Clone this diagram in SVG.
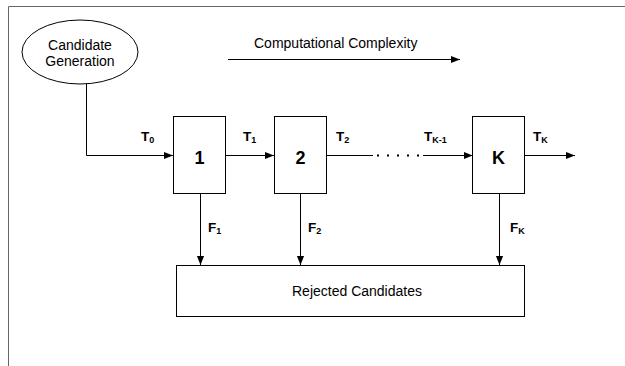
<svg xmlns="http://www.w3.org/2000/svg" width="625" height="366" viewBox="0 0 625 366">
<style>
.ln{stroke:#000;stroke-width:1;fill:none}
.bx{stroke:#000;stroke-width:1;fill:#fff}
.t{font-family:"Liberation Sans",Arial,sans-serif;font-size:14px;fill:#000}
.lb{font-family:"Liberation Sans",Arial,sans-serif;font-size:13.5px;font-weight:bold;fill:#000}
.sb{font-size:9px}
.num{font-family:"Liberation Sans",Arial,sans-serif;font-size:18px;font-weight:bold;fill:#000}
</style>
<defs>
<marker id="ah" viewBox="0 0 10 10" refX="10" refY="5" markerWidth="9" markerHeight="9" markerUnits="userSpaceOnUse" orient="auto">
<path d="M0,1 L10,5 L0,9 Z" fill="#000"/>
</marker>
</defs>
<rect width="625" height="366" fill="#fff"/>
<path d="M8.5,366 V6.5 H625" stroke="#666" stroke-width="1" fill="none"/>
<g id="connectors">
<path class="ln" d="M86.5,84 V155.5 H173" marker-end="url(#ah)"/>
<path class="ln" d="M225,155.5 H274" marker-end="url(#ah)"/>
<path class="ln" d="M326,155.5 H373"/>
<path d="M377,155.5 H421" stroke="#000" stroke-width="2" stroke-dasharray="2,8" fill="none"/>
<path class="ln" d="M423,155.5 H472.5" marker-end="url(#ah)"/>
<path class="ln" d="M525,155.5 H575" marker-end="url(#ah)"/>
<path class="ln" d="M200.5,193 V265" marker-end="url(#ah)"/>
<path class="ln" d="M300.5,193 V265" marker-end="url(#ah)"/>
<path class="ln" d="M499.5,193 V265" marker-end="url(#ah)"/>
<path class="ln" d="M228,59.5 H460" marker-end="url(#ah)"/>
</g>
<g id="labels">
<text class="t" x="254" y="48">Computational Complexity</text>
<text class="lb" x="141" y="141">T<tspan class="sb" dy="2">0</tspan></text>
<text class="lb" x="243" y="141">T<tspan class="sb" dy="2">1</tspan></text>
<text class="lb" x="336" y="141">T<tspan class="sb" dy="2">2</tspan></text>
<text class="lb" x="424" y="141">T<tspan class="sb" dy="2">K-1</tspan></text>
<text class="lb" x="533" y="141">T<tspan class="sb" dy="2">K</tspan></text>
<text class="lb" x="208" y="232">F<tspan class="sb" dy="2">1</tspan></text>
<text class="lb" x="308" y="232">F<tspan class="sb" dy="2">2</tspan></text>
<text class="lb" x="510" y="232">F<tspan class="sb" dy="2">K</tspan></text>
</g>
<g id="candidate-generation">
<ellipse class="bx" cx="80" cy="52" rx="58" ry="32"/>
<text class="t" x="80" y="50" text-anchor="middle">Candidate</text>
<text class="t" x="80" y="66" text-anchor="middle">Generation</text>
</g>
<g id="stage-1">
<rect class="bx" x="173.5" y="116.5" width="52" height="77"/>
<text class="num" x="199.5" y="164" text-anchor="middle">1</text>
</g>
<g id="stage-2">
<rect class="bx" x="274.5" y="116.5" width="52" height="77"/>
<text class="num" x="300.5" y="164" text-anchor="middle">2</text>
</g>
<g id="stage-K">
<rect class="bx" x="472.5" y="116.5" width="52" height="77"/>
<text class="num" x="498.5" y="164" text-anchor="middle">K</text>
</g>
<g id="rejected">
<rect class="bx" x="176.5" y="265.5" width="348" height="51"/>
<text class="t" x="357" y="296" text-anchor="middle">Rejected Candidates</text>
</g>
</svg>
